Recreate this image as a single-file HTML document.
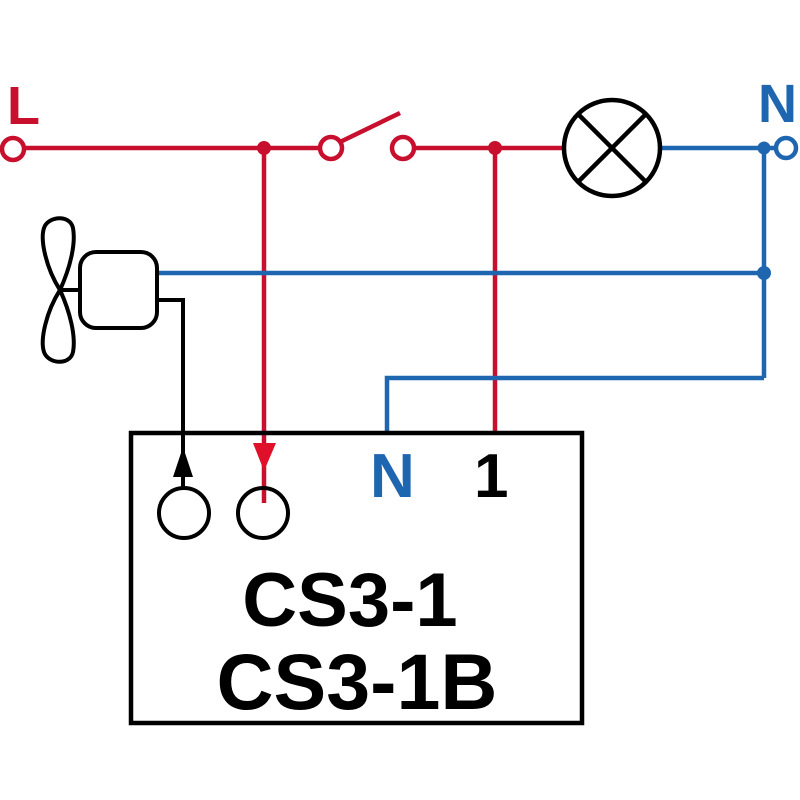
<!DOCTYPE html>
<html>
<head>
<meta charset="utf-8">
<style>
html,body{margin:0;padding:0;background:#fff;}
svg{display:block;}
text{font-family:"Liberation Sans",Arial,sans-serif;font-weight:bold;}
</style>
</head>
<body>
<svg width="800" height="800" viewBox="0 0 800 800" xmlns="http://www.w3.org/2000/svg">
<rect width="800" height="800" fill="#fff"/>
<!-- Labels -->
<text x="7" y="124" font-size="54" fill="#c8102e">L</text>
<text x="758" y="122" font-size="54" fill="#1e66b0">N</text>

<!-- Red wires -->
<g stroke="#c8102e" stroke-width="4.5" fill="none">
  <line x1="25" y1="148" x2="319" y2="148"/>
  <line x1="414" y1="148" x2="564" y2="148"/>
  <circle cx="13" cy="149" r="11"/>
  <circle cx="331" cy="148" r="11"/>
  <circle cx="403" cy="148" r="11"/>
  <line x1="340" y1="142" x2="400" y2="113"/>
  <line x1="264" y1="148" x2="264" y2="503"/>
  <line x1="495" y1="148" x2="495" y2="433"/>
</g>
<circle cx="264" cy="148" r="7" fill="#c8102e"/>
<circle cx="495" cy="148" r="7" fill="#c8102e"/>
<polygon points="253,443 276,443 264,471" fill="#e0102a"/>

<!-- Blue wires -->
<g stroke="#1e66b0" stroke-width="4.5" fill="none">
  <line x1="660" y1="148" x2="775" y2="148"/>
  <circle cx="786" cy="148" r="10"/>
  <line x1="764" y1="148" x2="764" y2="378"/>
  <line x1="157" y1="273" x2="764" y2="273"/>
  <polyline points="764,378 387,378 387,433"/>
</g>
<circle cx="764" cy="148" r="6.5" fill="#1e66b0"/>
<circle cx="764" cy="273" r="7" fill="#1e66b0"/>

<!-- Lamp -->
<g stroke="#000" stroke-width="4.5" fill="none">
  <circle cx="612" cy="148" r="48"/>
  <line x1="578" y1="114" x2="646" y2="182"/>
  <line x1="646" y1="114" x2="578" y2="182"/>
</g>

<!-- Fan + motor -->
<g stroke="#000" stroke-width="4" fill="none">
  <path d="M60,290 C46,268 40,240 44,228 C48,216 70,214 73,228 C76,244 70,268 60,290 Z"/>
  <path d="M60,290 C46,312 40,340 44,352 C48,364 70,366 73,352 C76,336 70,312 60,290 Z"/>
  <line x1="60" y1="290" x2="80" y2="290"/>
  <rect x="80" y="252" width="77" height="76" rx="16"/>
  <polyline points="157,300 183,300 183,489"/>
</g>
<polygon points="183,447 173,477 193,477" fill="#000"/>

<!-- Control box -->
<rect x="131" y="433" width="451" height="290" fill="none" stroke="#000" stroke-width="4.5"/>
<g stroke="#000" stroke-width="4" fill="none">
  <circle cx="184" cy="513" r="25"/>
  <circle cx="263" cy="513" r="25"/>
</g>
<text x="370" y="497" font-size="62" fill="#1e66b0">N</text>
<text x="474" y="497" font-size="62" fill="#000">1</text>
<text x="350" y="626" font-size="76" fill="#000" text-anchor="middle">CS3-1</text>
<text x="357" y="709" font-size="79" fill="#000" text-anchor="middle">CS3-1B</text>
</svg>
</body>
</html>
